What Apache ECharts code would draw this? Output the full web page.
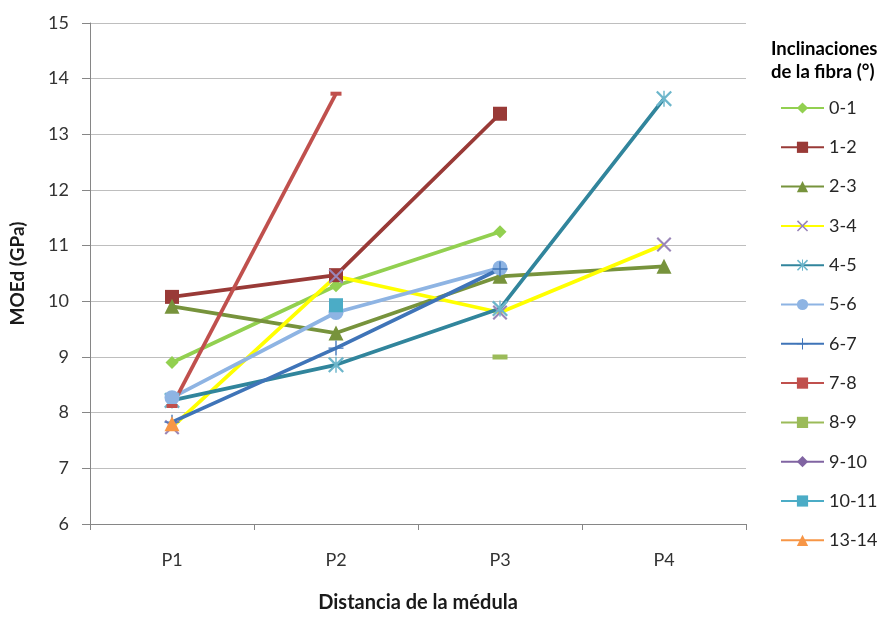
<!DOCTYPE html>
<html>
<head>
<meta charset="utf-8">
<script src="https://cdn.jsdelivr.net/npm/echarts@6/dist/echarts.min.js"></script>
<style>
  html, body { margin: 0; padding: 0; background: #fff; }
  #chart { width: 880px; height: 618px; }
</style>
</head>
<body>
<div id="chart"></div>
<script>
// Distance-from-pith categories
const categories = ['P1', 'P2', 'P3', 'P4'];
const yTicks = [6, 7, 8, 9, 10, 11, 12, 13, 14, 15];

// MOEd (GPa) per grain-angle class; null = no sample at that position
const incl_0_1   = [8.90, 10.28, 11.25, null];
const incl_1_2   = [10.08, 10.47, 13.37, null];
const incl_2_3   = [9.91, 9.43, 10.45, 10.63];
const incl_3_4   = [7.74, 10.45, 9.80, 11.02];
const incl_4_5   = [8.22, 8.86, 9.87, 13.64];
const incl_5_6   = [8.27, 9.80, 10.60, null];
const incl_6_7   = [7.83, 9.16, 10.58, null];
const incl_7_8   = [8.12, 13.73, null, null];
const incl_8_9   = [null, null, 9.00, null];
const incl_9_10  = [null, null, null, null];
const incl_10_11 = [null, 9.93, null, null];
const incl_13_14 = [7.80, null, null, null];

const seriesNames = ['0-1', '1-2', '2-3', '3-4', '4-5', '5-6', '6-7', '7-8', '8-9', '9-10', '10-11', '13-14'];

const FONT = 'Lato, "Open Sans", sans-serif';

// marker shapes drawn as thin filled outlines
const xMark = 'path://M0,1L1,0L10,9L9,10Z M9,0L10,1L1,10L0,9Z';
const starMark = 'path://M0,1L1,0L10,9L9,10Z M9,0L10,1L1,10L0,9Z M4.55,0H5.45V10H4.55Z';
const plusMark = 'path://M4.55,0H5.45V10H4.55Z M0,4.55H10V5.45H0Z';

function line(name, data, color, symbol, symbolSize, markerColor) {
  return {
    name: name,
    type: 'line',
    data: data,
    connectNulls: false,
    showSymbol: true,
    showAllSymbol: true,
    symbol: symbol,
    symbolSize: symbolSize,
    symbolKeepAspect: true,
    lineStyle: { color: color, width: 3.75 },
    itemStyle: { color: markerColor || color, borderWidth: 0 },
    emphasis: { disabled: true },
    animation: false
  };
}

const series = [
  line('0-1',   incl_0_1,   '#92D050', 'diamond', 13),
  line('1-2',   incl_1_2,   '#993A37', 'rect', 14),
  line('2-3',   incl_2_3,   '#77933C', 'triangle', 15),
  line('3-4',   incl_3_4,   '#FFFF00', xMark, 15, '#9A86B8'),
  line('4-5',   incl_4_5,   '#31859C', starMark, 16, '#6DB6CB'),
  line('5-6',   incl_5_6,   '#8EB4E3', 'circle', 15),
  line('6-7',   incl_6_7,   '#3F74B8', plusMark, 15),
  line('7-8',   incl_7_8,   '#C0504D', 'rect', [11, 4]),
  line('8-9',   incl_8_9,   '#9BBB59', 'rect', [15, 5]),
  line('9-10',  incl_9_10,  '#8064A2', 'diamond', 13),
  line('10-11', incl_10_11, '#4BACC6', 'rect', 14),
  line('13-14', incl_13_14, '#F79646', 'triangle', 15)
];

const chart = echarts.init(document.getElementById('chart'), null, { renderer: 'canvas' });
chart.setOption({
  backgroundColor: '#ffffff',
  animation: false,
  textStyle: { fontFamily: FONT },
  grid: { left: 90, width: 656, top: 23, height: 509, containLabel: false },
  xAxis: {
    type: 'category',
    data: categories,
    boundaryGap: true,
    name: 'Distancia de la médula',
    nameLocation: 'middle',
    nameGap: 69,
    nameTextStyle: { fontFamily: FONT, fontSize: 20, fontWeight: 'bold', color: '#1a1a1a' },
    axisLine: { show: true, lineStyle: { color: '#868686', width: 1 } },
    axisTick: { show: true, length: 6, lineStyle: { color: '#868686' } },
    axisLabel: { fontFamily: FONT, fontSize: 18, color: '#333333', margin: 27 },
    splitLine: { show: false }
  },
  yAxis: {
    type: 'value',
    min: yTicks[0],
    max: yTicks[yTicks.length - 1],
    interval: 1,
    name: 'MOEd (GPa)',
    nameLocation: 'middle',
    nameGap: 63,
    nameRotate: 90,
    nameTextStyle: { fontFamily: FONT, fontSize: 19, fontWeight: 'bold', color: '#1a1a1a' },
    axisLine: { show: true, lineStyle: { color: '#868686', width: 1 } },
    axisTick: { show: true, length: 8, lineStyle: { color: '#868686' } },
    axisLabel: { fontFamily: FONT, fontSize: 18, color: '#333333', margin: 21 },
    splitLine: { show: true, lineStyle: { color: '#BEBEBE', width: 1 } }
  },
  legend: {
    orient: 'vertical',
    left: 780,
    top: 99,
    padding: 0,
    itemWidth: 43,
    itemHeight: 14,
    itemGap: 21.3,
    data: seriesNames,
    selectedMode: false,
    textStyle: { fontFamily: FONT, fontSize: 18, color: '#262626', lineHeight: 18 }
  },
  graphic: [
    {
      type: 'text',
      left: 771,
      top: 38,
      style: {
        text: 'Inclinaciones\nde la fibra (°)',
        fontFamily: FONT,
        fontSize: 18.5,
        fontWeight: 'bold',
        lineHeight: 23,
        fill: '#000000',
        align: 'center'
      }
    }
  ],
  series: series
});
</script>
</body>
</html>
